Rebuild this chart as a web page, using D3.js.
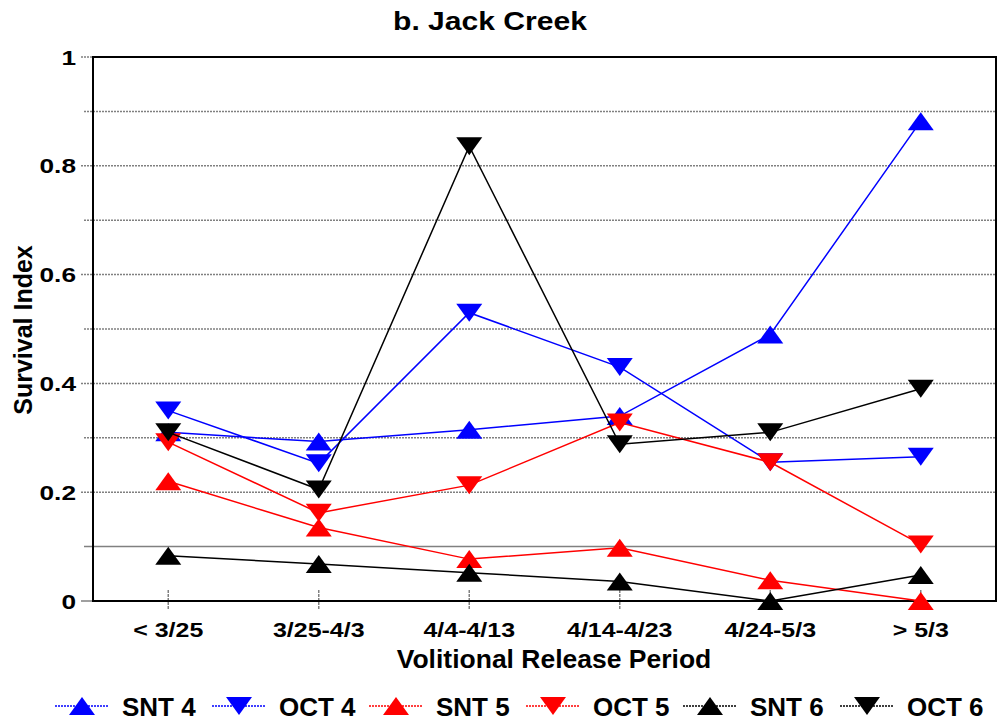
<!DOCTYPE html>
<html>
<head>
<meta charset="utf-8">
<script src="https://cdn.jsdelivr.net/npm/d3@7"></script>
<style>
  body { margin: 0; background: #fff; }
  text { font-family: "Liberation Sans", Arial, sans-serif; font-weight: bold; fill: #000; }
</style>
</head>
<body>
<svg id="chart" width="997" height="723"></svg>
<script>
// release periods (x categories)
var periods = ["< 3/25", "3/25-4/3", "4/4-4/13", "4/14-4/23", "4/24-5/3", "> 5/3"];
var yTicks = [0, 0.2, 0.4, 0.6, 0.8, 1];
var yGrid = [0.1, 0.2, 0.3, 0.4, 0.5, 0.6, 0.7, 0.8, 0.9, 1];

// survival index per group
var snt4 = [0.31, 0.293, 0.315, 0.34, 0.49, 0.882];
var oct4 = [0.35, 0.253, 0.53, 0.43, 0.255, 0.265];
var snt5 = [0.22, 0.135, 0.077, 0.098, 0.038, 0.0];
var oct5 = [0.292, 0.162, 0.213, 0.328, 0.255, 0.104];
var snt6 = [0.083, 0.068, 0.052, 0.036, 0.0, 0.048];
var oct6 = [0.31, 0.205, 0.836, 0.288, 0.31, 0.39];

var seriesNames = ["SNT 4", "OCT 4", "SNT 5", "OCT 5", "SNT 6", "OCT 6"];
var seriesValues = [snt4, oct4, snt5, oct5, snt6, oct6];

const colors = ["#0000ff", "#0000ff", "#ff0000", "#ff0000", "#000000", "#000000"];
const pointUp = [true, false, true, false, true, false];

var svg = d3.select("#chart");
// plot box (note: "top" is taken by window.top, so prefix these)
var plotL = 93, plotR = 996, plotT = 57, plotB = 601;

var x = d3.scalePoint().domain(periods).range([plotL, plotR]).padding(0.5);
var y = d3.scaleLinear().domain([0, 1]).range([plotB, plotT]);

// triangle marker, centred on its box
const tri = (up) => {
    var w = 13, h = 9;
    return up ? `M0,${-h}L${w},${h}L${-w},${h}Z` : `M0,${h}L${w},${-h}L${-w},${-h}Z`;
}

// text with a horizontal stretch, the original fonts are wide
const wideText = (g, str, tx, ty, size, sx, anchor) => {
    return g.append("text")
        .attr("transform", `translate(${tx},${ty}) scale(${sx},1)`)
        .attr("text-anchor", anchor || "middle")
        .style("font-size", size + "px")
        .text(str);
}

// gridlines
svg.append("g").selectAll("line")
    .data(yGrid)
    .enter()
    .append("line")
    .attr("x1", d => yTicks.some(t => Math.abs(t - d) < 1e-6) ? 81 : 84)
    .attr("x2", plotR)
    .attr("y1", d => y(d))
    .attr("y2", d => y(d))
    .attr("stroke", "#808080")
    .attr("stroke-width", 1.5)
    .attr("stroke-dasharray", d => Math.abs(d - 0.1) < 1e-6 ? null : "2,1");

// tick at 0 extends out to the left too
svg.append("line")
    .attr("x1", 81).attr("x2", plotL)
    .attr("y1", y(0)).attr("y2", y(0))
    .attr("stroke", "#808080").attr("stroke-width", 1.5);

// x ticks
svg.append("g").selectAll("line")
    .data(periods)
    .enter()
    .append("line")
    .attr("x1", d => x(d)).attr("x2", d => x(d))
    .attr("y1", 590).attr("y2", 609)
    .attr("stroke", "#808080")
    .attr("stroke-width", 1.5)
    .attr("stroke-dasharray", "3,1");

// frame
svg.append("rect")
    .attr("x", plotL).attr("y", plotT)
    .attr("width", plotR - plotL).attr("height", plotB - plotT)
    .attr("fill", "none")
    .attr("stroke", "#000")
    .attr("stroke-width", 2);

// y tick labels
var yLab = svg.append("g");
yTicks.forEach(function(t) {
    wideText(yLab, d3.format("~g")(t), 76, y(t) + 7.5, 21, 1.25, "end");
});

// x tick labels
var xLab = svg.append("g");
periods.forEach(function(p) {
    wideText(xLab, p, x(p), 637, 19.5, 1.28, "middle");
});

// series
var line = d3.line()
    .x((d, i) => x(periods[i]))
    .y(d => y(d));

seriesValues.forEach(function(vals, k) {
    var g = svg.append("g");
    g.append("path")
        .datum(vals)
        .attr("d", line)
        .attr("fill", "none")
        .attr("stroke", colors[k])
        .attr("stroke-width", 1.5);
    g.selectAll("path.marker")
        .data(vals)
        .enter()
        .append("path")
        .attr("class", "marker")
        .attr("d", tri(pointUp[k]))
        .attr("transform", (d, i) => `translate(${x(periods[i])},${y(d)})`)
        .attr("fill", colors[k]);
});

// titles
wideText(svg, "b. Jack Creek", 490, 30, 25.5, 1.18, "middle");
wideText(svg, "Volitional Release Period", 554, 668, 25, 1.06, "middle");
svg.append("text")
    .attr("transform", "translate(32,330) rotate(-90)")
    .attr("text-anchor", "middle")
    .style("font-size", "25px")
    .text("Survival Index");

// legend
var legend = svg.append("g");
seriesNames.forEach(function(name, k) {
    var lx = 55 + k * 157, ly = 706;
    legend.append("line")
        .attr("x1", lx).attr("x2", lx + 54)
        .attr("y1", ly).attr("y2", ly)
        .attr("stroke", colors[k])
        .attr("stroke-width", 1.5)
        .attr("stroke-dasharray", "2,1");
    legend.append("path")
        .attr("d", tri(pointUp[k]))
        .attr("transform", `translate(${lx + 27},${ly})`)
        .attr("fill", colors[k]);
    legend.append("text")
        .attr("x", lx + 67)
        .attr("y", 716)
        .style("font-size", "26px")
        .text(name);
});
</script>
</body>
</html>
